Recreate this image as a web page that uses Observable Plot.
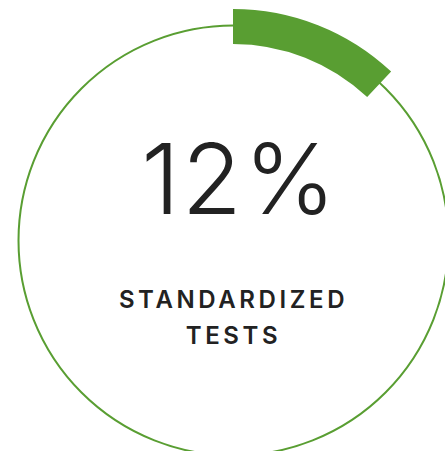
<!DOCTYPE html>
<html><head><meta charset="utf-8">
<script src="https://cdn.jsdelivr.net/npm/d3@7"></script>
<script src="https://cdn.jsdelivr.net/npm/@observablehq/plot@0.6"></script>
<style>body{margin:0;background:#fff}</style>
</head><body><div id="chart"></div>
<script>
const value = [0.12];
const labelLines = ["STANDARDIZED", "TESTS"];
const valueLabel = ["12%"];
const green = "#599e32";
const cx = 233, cy = 240;

const arcMark = (index, scales, values, dims) => {
  const g = d3.create("svg:g");
  const arc = d3.arc().innerRadius(196).outerRadius(231).startAngle(0).endAngle(value[0] * 2 * Math.PI);
  g.append("path").attr("d", arc()).attr("fill", green)
    .attr("transform", `translate(${scales.x(cx)},${scales.y(cy)})`);
  return g.node();
};

const plot = Plot.plot({
  width: 445, height: 451, margin: 0,
  x: {domain: [0, 445], range: [0, 445], axis: null},
  y: {domain: [0, 451], range: [0, 451], axis: null},
  marks: [
    Plot.dot([{x: cx, y: cy}], {x: "x", y: "y", r: 215, stroke: green, strokeWidth: 2, fill: "none"}),
    arcMark,
    Plot.text(valueLabel, {x: cx, y: 213, dx: 6, text: d => d, fontSize: 98, fontWeight: 300, fill: "#222", lineAnchor: "bottom", fontFamily: "Inter", className: "val"}),
    Plot.text(labelLines, {x: cx, y: (d, i) => 307 + i * 36, dx: 0, text: d => d, fontSize: 24, fontWeight: 600, fill: "#222", lineAnchor: "bottom", fontFamily: "Inter", className: "lbl"})
  ]
});
d3.select(plot).selectAll(".lbl text").attr("letter-spacing", "3.6px");
d3.select(plot).selectAll(".val text").attr("letter-spacing", "2px");
document.getElementById("chart").appendChild(plot);
</script></body></html>
